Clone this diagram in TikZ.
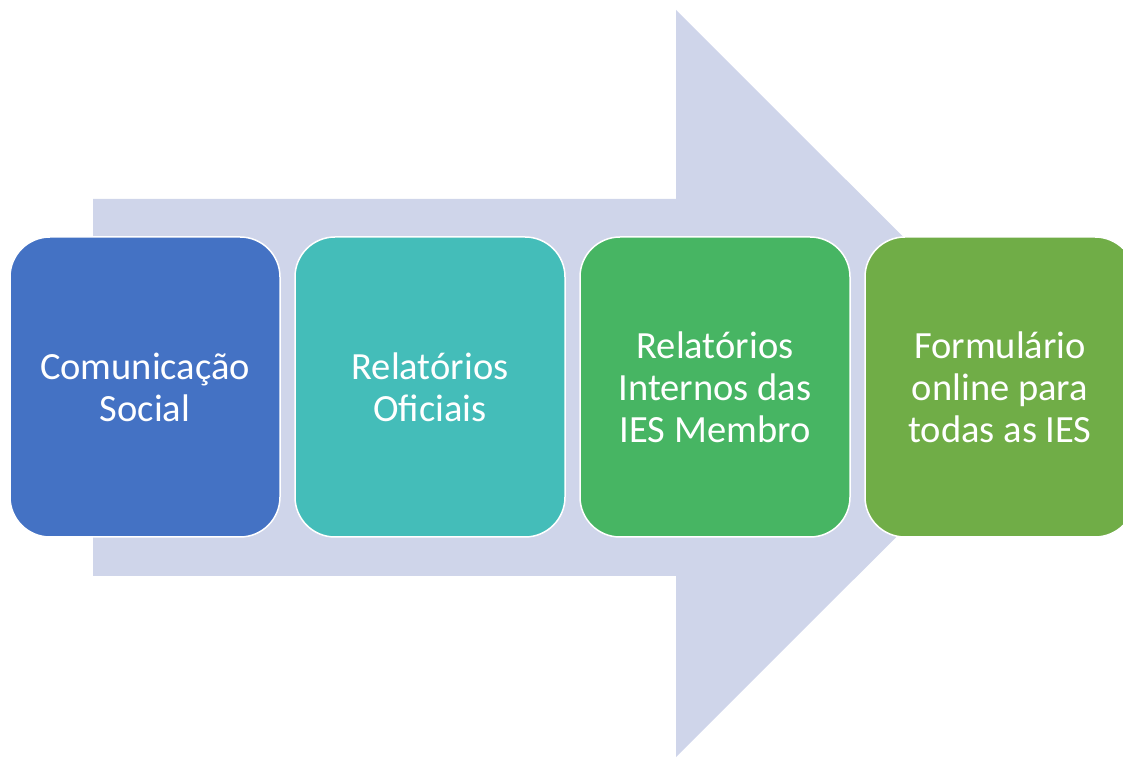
\documentclass[tikz,border=0pt]{standalone}
\usepackage{fontspec}
\setmainfont{Carlito}
\definecolor{arrowfill}{HTML}{CFD5EA}
\definecolor{cA}{HTML}{4472C4}
\definecolor{cB}{HTML}{44BDB9}
\definecolor{cC}{HTML}{47B563}
\definecolor{cD}{HTML}{70AD47}
\begin{document}
\begin{tikzpicture}[x=1pt,y=1pt,
  stagebox/.style={draw=white, line width=1.5pt, rounded corners=40pt,
    minimum width=270pt, minimum height=300pt, inner sep=0pt,
    text=white, align=center, font=\fontsize{38.5}{42}\selectfont}]
\useasboundingbox (0,0) rectangle (1123,757);
\clip (0,0) rectangle (1123,757);
\fill[arrowfill] (93,558) -- (676,558) -- (676,747) -- (1050,373.5) -- (676,0) -- (676,181) -- (93,181) -- cycle;
\node[stagebox, fill=cA] (b1) at (145,370) {Comunicação\\Social};
\node[stagebox, fill=cB] (b2) at (430,370) {Relatórios\\Oficiais};
\node[stagebox, fill=cC] (b3) at (715,370) {Relatórios\\Internos das\\IES Membro};
\node[stagebox, fill=cD] (b4) at (1000,370) {Formulário\\online para\\todas as IES};
\end{tikzpicture}
\end{document}
